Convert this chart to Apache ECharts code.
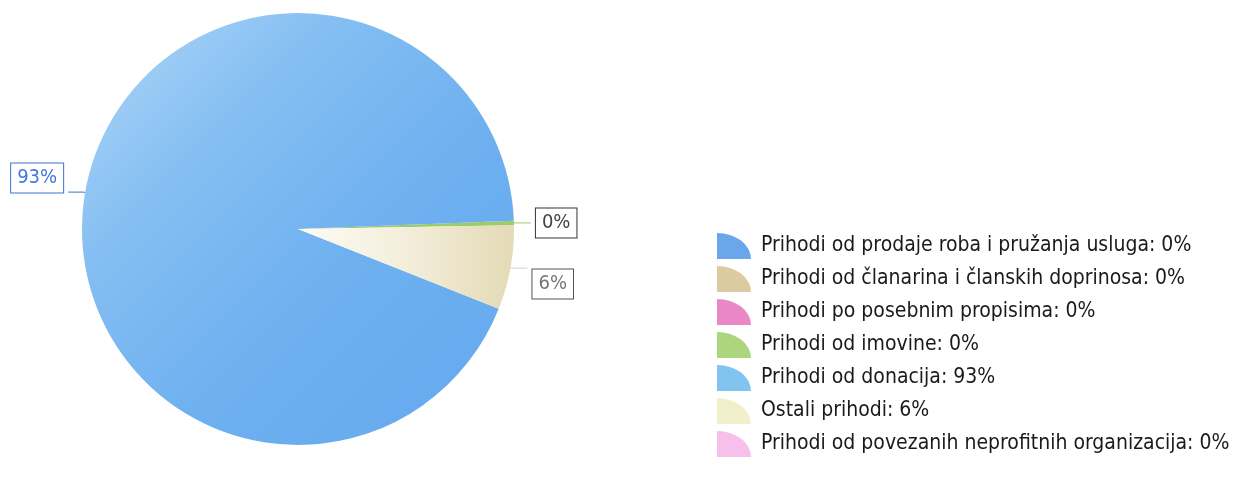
<!DOCTYPE html>
<html>
<head>
<meta charset="utf-8">
<script src="https://cdn.jsdelivr.net/npm/echarts@6/dist/echarts.min.js"></script>
<style>
html,body{margin:0;padding:0;background:#fff;}
#chart{width:1240px;height:478px;}
</style>
</head>
<body>
<div id="chart"></div>
<script>
// ---- data ----
const categories = [
  'Prihodi od prodaje roba i pružanja usluga',
  'Prihodi od članarina i članskih doprinosa',
  'Prihodi po posebnim propisima',
  'Prihodi od imovine',
  'Prihodi od donacija',
  'Ostali prihodi',
  'Prihodi od povezanih neprofitnih organizacija'
];
const values = [0, 0, 0, 0.33, 93.4, 6.3, 0];

// ---- styles ----
const legendColors = ['#6aa6ea', '#dccaa0', '#ea88c6', '#acd57e', '#80c4ef', '#f2f0cc', '#f6c0ea'];
const pieColors = [
  '#6aa6ea', '#dccaa0', '#ea88c6', '#9ccb6a',
  {type:'linear', x:0, y:0, x2:1, y2:1, colorStops:[
    {offset:0, color:'#b0d8f8'}, {offset:0.3, color:'#84bef2'}, {offset:0.6, color:'#6eb0f0'}, {offset:1, color:'#64a9ee'}]},
  {type:'linear', x:0, y:0, x2:1, y2:0, colorStops:[
    {offset:0, color:'#fdfcf4'}, {offset:0.5, color:'#f3eedb'}, {offset:1, color:'#e4dab6'}]},
  '#f6c0ea'
];
const labelTextColors = ['#333', '#333', '#333', '#444', '#3f78dc', '#777', '#333'];
const labelBorderColors = ['#333', '#333', '#333', '#333', '#3a6fd6', '#555', '#333'];
const labelLineColors = ['#999', '#999', '#999', '#9ccb6a', '#3a6fd6', '#d0d0d0', '#999'];
const labelShift = [0, 0, 0, 0, -14, 16, 0];

const total = values.reduce((a, b) => a + b, 0);
const pct = v => Math.round(v / total * 100) + '%';

const chart = echarts.init(document.getElementById('chart'), null, {renderer: 'canvas'});
const FONT = '"DejaVu Sans Condensed", "DejaVu Sans", sans-serif';

chart.setOption({
  backgroundColor: '#fff',
  animation: false,
  legend: {
    orient: 'vertical',
    left: 712,
    top: 228,
    itemWidth: 34,
    itemHeight: 26,
    itemGap: 7,
    icon: 'path://M0,0 A34,26 0 0 1 34,26 L0,26 Z',
    textStyle: {fontFamily: FONT, fontSize: 21, color: '#1a1a1a', padding: [0, 0, 0, 5]},
    data: categories.map((n, i) => ({name: n, itemStyle: {color: legendColors[i]}})),
    formatter: name => name + ': ' + pct(values[categories.indexOf(name)])
  },
  series: [{
    type: 'pie',
    center: [298, 229],
    radius: 216,
    startAngle: 1,
    clockwise: false,
    avoidLabelOverlap: false,
    minAngle: 0,
    itemStyle: {borderWidth: 0},
    emphasis: {disabled: true},
    labelLayout: p => ({dy: labelShift[p.dataIndex]}),
    data: categories.map((n, i) => ({
      name: n,
      value: values[i],
      itemStyle: {color: pieColors[i]},
      label: {
        show: values[i] > 0,
        position: 'outside',
        formatter: () => pct(values[i]),
        fontFamily: FONT,
        fontSize: 20,
        color: labelTextColors[i],
        backgroundColor: '#fff',
        borderColor: labelBorderColors[i],
        borderWidth: 1,
        padding: [5, 6, 4, 6]
      },
      labelLine: {
        show: values[i] > 0,
        length: 2,
        length2: 15,
        lineStyle: {color: labelLineColors[i], width: 1}
      }
    }))
  }]
});
</script>
</body>
</html>
